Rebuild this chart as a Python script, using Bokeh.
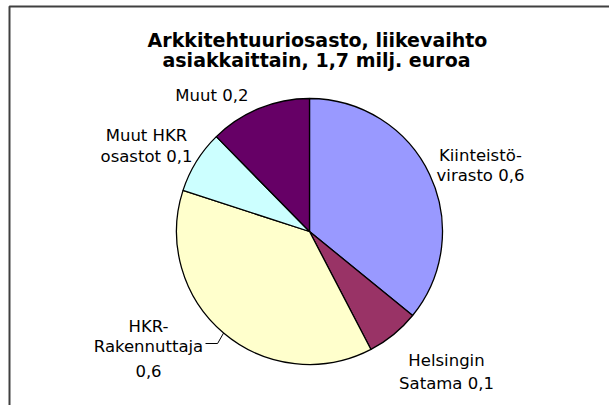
import math
from bokeh.plotting import figure
from bokeh.models import Range1d, ColumnDataSource
from bokeh.core.properties import value
from bokeh.embed import file_html
from bokeh.resources import INLINE

# ---- data ----
categories = ["Kiinteistövirasto", "Helsingin Satama", "HKR-Rakennuttaja",
              "Muut HKR osastot", "Muut"]
values = [0.61, 0.11, 0.64, 0.13, 0.21]
colors = ["#9999FF", "#993366", "#FFFFCC", "#CCFFFF", "#660066"]
label_lines = [["Kiinteistö-", "virasto 0,6"],
               ["Helsingin", "Satama 0,1"],
               ["HKR-", "Rakennuttaja", "0,6"],
               ["Muut HKR", "osastot 0,1"],
               ["Muut  0,2"]]
title_lines = ["Arkkitehtuuriosasto, liikevaihto",
               "asiakkaittain, 1,7 milj. euroa"]

W, H = 609, 405


def X(px):
    return px


def Y(py):
    return H - py


p = figure(width=W, height=H, output_backend="svg", toolbar_location=None,
           x_range=Range1d(0, W), y_range=Range1d(0, H),
           x_axis_location=None, y_axis_location=None, min_border=0,
           background_fill_color="white", border_fill_color="white")
p.grid.visible = False
p.outline_line_color = None

# pie
cx, cy, r = 309, 231, 133
total = sum(values)
starts, ends, mids = [], [], []
acc = 0.0
for v in values:
    a0 = math.pi / 2 - acc / total * 2 * math.pi
    acc += v
    a1 = math.pi / 2 - acc / total * 2 * math.pi
    starts.append(a0)
    ends.append(a1)
    mids.append((a0 + a1) / 2)

src = ColumnDataSource(dict(start=starts, end=ends, color=colors, cat=categories))
p.wedge(x=X(cx), y=Y(cy), radius=r, start_angle="start", end_angle="end",
        direction="clock", fill_color="color", line_color="black", line_width=1.3,
        source=src)

# labels (layout positions: centre x, baselines y in page pixels)
label_pos = [(480, [155, 175]),
             (446, [360, 383]),
             (148, [326, 346, 370]),
             (146, [135, 156]),
             (214, [95])]
font = value("DejaVu Sans")
for lines, (lx, bys) in zip(label_lines, label_pos):
    p.text(x=[X(lx)] * len(lines), y=[Y(b) for b in bys], text=lines,
           text_font=font, text_font_size="16.5px", text_align="center",
           text_baseline="alphabetic", text_color="black")

# leader line for HKR-Rakennuttaja
m = mids[2]
ex, ey = cx + r * math.cos(m), cy - r * math.sin(m)
p.line(x=[X(205), X(ex - 6), X(ex)], y=[Y(343), Y(343), Y(ey)],
       line_color="black", line_width=1)

# title
p.text(x=[X(317), X(316)], y=[Y(39), Y(59)], text=title_lines,
       text_font=font, text_font_style="bold", text_font_size="19px",
       text_align="center", text_baseline="alphabetic", text_color="black")

# chart border (left and top edges)
p.line(x=[X(9), X(9), X(W)], y=[Y(H), Y(6), Y(6)],
       line_color="#404040", line_width=2)

open("out.html", "w").write(file_html(p, INLINE))
